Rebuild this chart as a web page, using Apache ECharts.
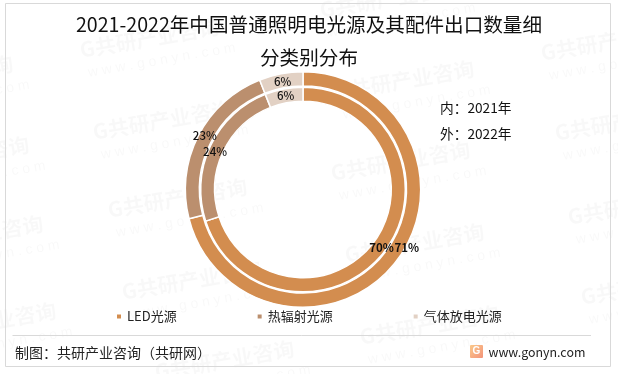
<!DOCTYPE html>
<html>
<head>
<meta charset="utf-8">
<script src="https://cdn.jsdelivr.net/npm/echarts@6/dist/echarts.min.js"></script>
<style>
  html, body { margin: 0; padding: 0; background: #fff; }
  #chart { width: 618px; height: 374px; }
</style>
</head>
<body>
<div id="chart"></div>
<script>
let categories = ["LED光源", "热辐射光源", "气体放电光源"];
let values2021 = [70, 24, 6];
let values2022 = [71, 23, 6];
let colors = ["#d38d4f", "#bb8f6e", "#e2d1c4"];
let titleText = "2021-2022年中国普通照明电光源及其配件出口数量细\n分类别分布";

// label nudges, the labels were dragged by hand in the original
let offsets2021 = [[-1, 0], [1, 4], [1, 3]];
let offsets2022 = [[14, -12], [3, -2], [1, 4]];

// watermark anchors (left end of each stamp)
let markSpots = [
  [-126, 87], [-110, 168], [-96, 247], [-83, 334],
  [80, 50], [93, 132], [108, 210], [122, 292], [155, 372],
  [320, 10], [335, 92], [331, 173], [345, 255], [360, 337],
  [541, 53], [555, 133], [568, 217], [581, 297]
];

let fontCn = "'Noto Sans CJK SC', sans-serif";

function ringSeries(name, values, offsets, radius) {
  return {
    name: name,
    type: "pie",
    radius: radius,
    center: [303, 189.5],
    startAngle: 90,
    silent: true,
    avoidLabelOverlap: false,
    z: 5,
    itemStyle: { borderColor: "#fff", borderWidth: 1.5 },
    label: {
      show: true,
      position: "inside",
      formatter: "{c}%",
      color: "#111",
      fontSize: 11.5,
      fontWeight: 500,
      fontFamily: fontCn
    },
    labelLine: { show: false },
    labelLayout: { hideOverlap: false },
    data: categories.map(function(cat, i) {
      return {
        name: cat,
        value: values[i],
        itemStyle: { color: colors[i] },
        label: { offset: offsets[i], fontWeight: i === 0 ? "bold" : 500 }
      };
    })
  };
}

let graphics = [];
markSpots.forEach(function(p) {
  graphics.push({
    type: "group", x: p[0], y: p[1], rotation: 0.17, silent: true, z: 0,
    children: [
      { type: "text", style: { x: 0, y: 0, text: "G共研产业咨询", fill: "rgba(0,0,0,0.028)", font: "bold 21px " + fontCn, textAlign: "left", textVerticalAlign: "middle" } },
      { type: "text", style: { x: 4, y: 24, text: "w w w . g o n y n . c o m", fill: "rgba(0,0,0,0.028)", font: "14px 'Liberation Sans'", textAlign: "left", textVerticalAlign: "middle" } }
    ]
  });
});
graphics.push(
  { type: "rect", silent: true, z: 1, shape: { x: 5.5, y: 3.5, width: 605, height: 363 }, style: { fill: "none", stroke: "#d9d9d9", lineWidth: 1 } },
  { type: "line", silent: true, z: 1, shape: { x1: 12.5, y1: 335.5, x2: 591, y2: 335.5 }, style: { stroke: "#d9d9d9", lineWidth: 1 } },
  { type: "text", z: 10, style: { x: 440, y: 108, text: "内：2021年", fill: "#111", font: "13.7px " + fontCn, textVerticalAlign: "middle" } },
  { type: "text", z: 10, style: { x: 440, y: 134, text: "外：2022年", fill: "#111", font: "13.7px " + fontCn, textVerticalAlign: "middle" } },
  { type: "text", z: 10, style: { x: 15, y: 353, text: "制图：共研产业咨询（共研网）", fill: "#222", font: "14px " + fontCn, textVerticalAlign: "middle" } },
  { type: "rect", z: 10, shape: { x: 470, y: 345, width: 13, height: 13, r: 1 }, style: { fill: new echarts.graphic.LinearGradient(0, 0, 1, 1, [{ offset: 0, color: "#fbc98a" }, { offset: 1, color: "#f3937a" }]) } },
  { type: "text", z: 11, style: { x: 476.5, y: 351.5, text: "G", fill: "#fff", font: "bold 10px 'Liberation Sans'", textAlign: "center", textVerticalAlign: "middle" } },
  { type: "text", z: 10, style: { x: 488.5, y: 352, text: "www.gonyn.com", fill: "#222", font: "12.4px " + fontCn, textVerticalAlign: "middle" } }
);

let option = {
  backgroundColor: "#fff",
  animation: false,
  title: {
    text: titleText,
    left: "center",
    top: 8,
    padding: 0,
    textStyle: { color: "#111", fontSize: 19.6, fontWeight: "normal", lineHeight: 33, fontFamily: fontCn }
  },
  legend: {
    data: categories,
    left: 115,
    top: 310,
    padding: 0,
    icon: "rect",
    itemWidth: 6,
    itemHeight: 6,
    itemGap: 79,
    textStyle: { color: "#222", fontSize: 13, fontFamily: fontCn }
  },
  graphic: graphics,
  series: [
    ringSeries("2022年", values2022, offsets2022, [103.5, 117.7]),
    ringSeries("2021年", values2021, offsets2021, [88.3, 102.3])
  ]
};

let myChart = echarts.init(document.getElementById("chart"));
myChart.setOption(option);
</script>
</body>
</html>
